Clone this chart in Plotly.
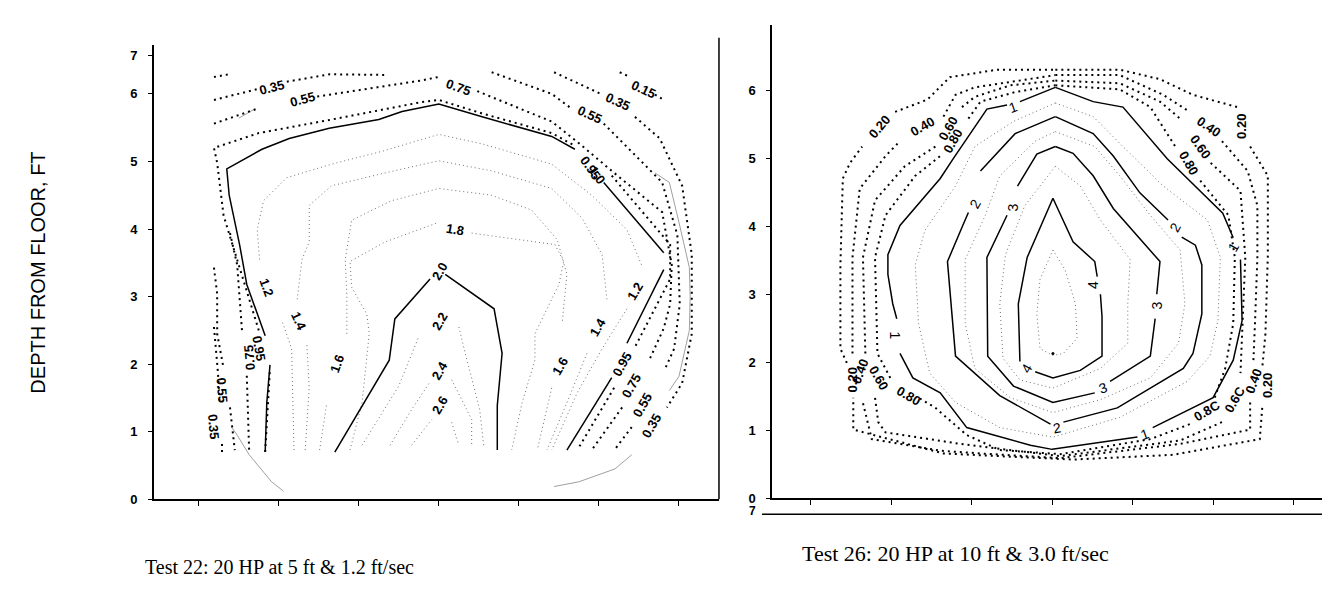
import plotly.graph_objects as go

# ---------------------------------------------------------------------------
# digitised contour lines (x = position across tank, y = depth from floor, ft)
# None = break in a line (gap for a label)
# ---------------------------------------------------------------------------
G = None

# Test 22 (left panel)
t22_solid = [
    (1.83, 0.70), (1.85, 1.43), (1.89, 1.99), G,
    (1.83, 2.42), (1.60, 3.18), (1.51, 3.77), (1.38, 4.50), (1.35, 4.89), (1.79, 5.18),
    (2.13, 5.34), (2.63, 5.49), (3.25, 5.62), (3.54, 5.74), (4.00, 5.85), (4.54, 5.66),
    (5.41, 5.37), (5.70, 5.18), G,
    (6.06, 4.69), (6.81, 3.65), G,
    (6.81, 3.40), (6.35, 2.31), G,
    (6.16, 1.80), (5.60, 0.73), G,
    (2.70, 0.70), (3.38, 2.06), (3.45, 2.67), (3.89, 3.26), G,
    (4.08, 3.33), (4.69, 2.82), (4.79, 2.16), (4.73, 1.39), (4.73, 0.73),
]

t22_heavy = [
    # 0.15
    (1.19, 6.25), (1.38, 6.29), G,
    (6.26, 6.32), (6.39, 6.25), G,
    (6.70, 5.99), (6.81, 5.91), G,
    # 0.35 top left
    (1.19, 5.91), (1.73, 6.07), G,
    (2.10, 6.18), (2.64, 6.29), (3.33, 6.28), G,
    # 0.55 / 0.75 line
    (1.19, 5.56), (1.73, 5.78), G,
    (2.48, 5.96), (3.79, 6.20), (4.00, 6.25), G,
    (4.48, 6.04), (5.41, 5.59), (5.75, 5.27), (6.16, 4.86), (6.79, 4.25), (6.91, 3.47),
    (6.89, 2.89), (6.81, 2.53), (6.64, 2.09), G,
    (6.29, 1.36), (5.91, 0.73), G,
    # 0.55 right
    (4.66, 6.32), (5.41, 6.00), (5.66, 5.78), G,
    (6.06, 5.56), (6.79, 4.69), (6.98, 3.91), (7.01, 2.89), (6.94, 2.23), (6.83, 1.94), G,
    (6.41, 1.07), (6.20, 0.74), G,
    # 0.35 right
    (5.44, 6.32), (6.04, 5.99), G,
    (6.45, 5.66), (6.76, 5.34), (7.04, 4.64), (7.16, 3.62), (7.16, 2.45), (7.04, 1.72),
    (6.85, 1.36), G,
    (6.69, 0.74), G,
    # 0.95
    (1.83, 0.70), (1.86, 1.43), (1.89, 1.94), G,
    (1.75, 2.50), (1.50, 3.45), (1.31, 4.20), (1.23, 4.98), (1.19, 5.20), (1.75, 5.42),
    (2.66, 5.62), (3.79, 5.88), (4.00, 5.91), (4.54, 5.71), (5.41, 5.42), (5.70, 5.23), G,
    (6.16, 4.79), (6.89, 3.77), (6.89, 3.26), (6.60, 2.60), (6.44, 2.23), G,
    (6.19, 1.65), (5.75, 0.77), G,
    # 0.75 / 0.55 / 0.35 left
    (1.39, 3.94), (1.48, 3.47), (1.54, 2.50), G,
    (1.60, 1.83), (1.63, 0.70), G,
    (1.19, 3.43), (1.23, 3.04), (1.23, 2.45), (1.31, 1.94), G,
    (1.39, 1.36), (1.45, 0.73), G,
    (1.19, 2.55), (1.24, 1.87), (1.26, 1.43), G,
    (1.29, 0.82), (1.29, 0.70),
]

t22_light = [
    # 1.2
    (2.19, 0.73), (2.16, 2.23), (2.04, 2.64), G,
    (1.76, 3.55), (1.73, 3.99), (1.81, 4.42), (2.10, 4.76), (2.66, 4.96), (3.29, 5.15),
    (4.00, 5.40), (4.54, 5.26), (5.41, 4.96), (5.91, 4.50), (6.35, 3.99), (6.54, 3.45), G,
    (6.35, 2.82), (6.04, 2.23), (5.73, 1.58), (5.41, 0.73), G,
    # 1.4
    (2.33, 0.73), (2.38, 1.65), (2.35, 2.31), G,
    (2.23, 2.96), (2.29, 3.55), (2.38, 3.81), (2.38, 4.35), (2.66, 4.64), (3.29, 4.82),
    (4.00, 5.01), (4.66, 4.86), (5.41, 4.60), (5.79, 4.16), (6.04, 3.62), (6.10, 2.96), G,
    (5.85, 2.16), (5.60, 1.43), (5.35, 0.73), G,
    # 1.6
    (2.51, 0.73), (2.60, 1.43), G,
    (2.85, 2.45), (2.85, 3.04), (2.83, 3.55), (2.91, 4.13), (3.41, 4.42), (4.00, 4.60),
    (4.66, 4.50), (5.16, 4.28), (5.48, 3.84), (5.60, 3.33), (5.54, 2.60), G,
    (5.41, 1.65), (5.23, 0.73), G,
    # 1.8
    (2.89, 0.73), (3.04, 1.43), (3.13, 2.45), (3.10, 2.74), (2.91, 3.14), (2.89, 3.52),
    (3.33, 3.81), (4.00, 4.10), G,
    (4.41, 3.94), (5.45, 3.77), (5.56, 3.52), (5.50, 3.18), (5.20, 2.45), (5.20, 2.06),
    (5.04, 1.43), (4.91, 0.73), G,
    # 2.2
    (3.04, 0.80), (3.50, 1.68), (3.75, 2.41), G,
    (4.25, 2.55), (4.33, 2.16), (4.51, 1.33), (4.56, 0.80), G,
    # 2.4
    (3.39, 0.80), (3.66, 1.33), (3.88, 1.72), G,
    (4.16, 1.77), (4.41, 1.18), (4.41, 0.80), G,
    # 2.6
    (3.66, 0.80), (3.91, 1.18), G,
    (4.16, 1.14), (4.25, 0.80),
]

t22_pencil = [
    (1.50, 5.64), (1.69, 5.77), G,
    (1.41, 1.07), (1.48, 0.95), (1.63, 0.66), (1.91, 0.26), (2.06, 0.12), G,
    (6.41, 0.66), (6.20, 0.45), (5.75, 0.26), (5.44, 0.19), G,
    (6.70, 4.83), (6.88, 4.69), (7.00, 4.10), (7.13, 3.43), (7.14, 2.99), (7.13, 2.50),
    (7.00, 1.82), (6.88, 1.61),
]

t22_labels = [
    ("0.35", 1.91, 6.10, -15), ("0.55", 2.29, 5.91, -15), ("0.75", 4.25, 6.10, 20),
    ("0.15", 6.56, 6.07, 25), ("0.35", 6.23, 5.88, 25), ("0.55", 5.88, 5.69, 25),
    ("0.95", 5.89, 4.91, 55), ("1.0", 5.97, 4.80, 55), ("1.8", 4.20, 3.99, 10),
    ("2.0", 4.01, 3.37, -60), ("2.2", 4.01, 2.63, -60), ("2.4", 4.01, 1.91, -60),
    ("2.6", 4.01, 1.39, -60), ("1.2", 1.85, 3.14, 70), ("1.4", 2.25, 2.63, 65),
    ("1.6", 2.73, 2.01, -70), ("0.95", 1.75, 2.23, 80), ("0.75", 1.63, 2.09, -95),
    ("0.55", 1.29, 1.61, 85), ("0.35", 1.19, 1.07, 85), ("1.6", 5.51, 1.97, -60),
    ("1.4", 5.98, 2.55, -60), ("1.2", 6.45, 3.08, -60), ("0.95", 6.29, 1.99, -60),
    ("0.75", 6.41, 1.68, -60), ("0.55", 6.54, 1.39, -60), ("0.35", 6.66, 1.09, -60),
]

# Test 26 (right panel)
t26_solid = [
    # 1
    (4.04, 6.04), (4.51, 5.83), (4.88, 5.75), (5.43, 4.99), (6.12, 4.19), (6.25, 3.83), G,
    (6.34, 3.51), (6.36, 2.61), (6.25, 2.03), (6.00, 1.48), (5.25, 1.04), G,
    (5.06, 0.90), (4.00, 0.72), (3.73, 0.78), (2.94, 1.04), (2.61, 1.55), (2.27, 1.77),
    (2.11, 2.13), G,
    (2.07, 2.64), (2.02, 2.86), (1.96, 3.29), (1.96, 3.58), (2.11, 4.01), (2.61, 4.70),
    (2.77, 4.99), (3.19, 5.72), (3.44, 5.78), G,
    (3.60, 5.83), (4.04, 6.04), G,
    # 2
    (4.04, 5.61), (4.51, 5.36), (4.76, 5.03), (5.09, 4.49), (5.44, 4.09), G,
    (5.61, 3.84), (5.78, 3.72), (5.86, 3.43), (5.86, 2.71), (5.75, 2.13), (5.63, 1.91),
    (4.81, 1.33), (4.14, 1.12), G,
    (3.98, 1.09), (3.35, 1.51), (2.80, 2.09), (2.70, 3.48), (2.89, 4.01), (2.96, 4.20), G,
    (3.11, 4.81), (3.54, 5.36), (4.04, 5.61), G,
    # 3
    (4.04, 5.17), (4.26, 5.07), (4.51, 4.74), (4.76, 4.26), (5.34, 3.48), (5.30, 3.00), G,
    (5.28, 2.64), (5.22, 2.09), (4.72, 1.72), G,
    (4.53, 1.55), (4.01, 1.41), (3.52, 1.65), (3.20, 2.09), (3.19, 3.54), (3.44, 4.16), G,
    (3.57, 4.59), (3.81, 5.06), (4.04, 5.17), G,
    # 4
    (4.01, 4.41), (4.26, 3.77), (4.53, 3.48), (4.56, 3.26), G,
    (4.60, 3.00), (4.62, 2.67), (4.62, 2.09), (4.35, 1.88), (4.01, 1.77), (3.79, 1.86), G,
    (3.60, 2.01), (3.58, 2.86), (3.69, 3.54), (4.01, 4.41),
]

t26_heavy = [
    # 0.20
    (4.04, 6.30), (4.84, 6.30), (5.34, 6.16), (5.75, 5.93), (6.30, 5.75), G,
    (6.46, 5.17), (6.68, 4.74), (6.68, 3.58), (6.65, 2.42), (6.61, 1.91), G,
    (6.61, 1.33), (6.58, 0.87), (5.50, 0.64), (4.26, 0.57), (3.35, 0.62), (2.65, 0.66),
    (1.53, 1.01), (1.53, 1.48), G,
    (1.45, 1.99), (1.37, 2.20), (1.37, 3.43), (1.40, 4.70), (1.49, 4.93), (1.64, 5.17), G,
    (2.05, 5.68), (2.45, 5.86), (2.73, 6.19), (3.32, 6.30), (4.04, 6.30), G,
    # 0.40
    (4.04, 6.22), (4.84, 6.22), (5.38, 5.93), (5.71, 5.68), G,
    (6.11, 5.25), (6.43, 4.81), (6.55, 4.30), (6.55, 3.54), (6.52, 2.57), (6.50, 2.01), G,
    (6.46, 1.41), (6.46, 1.01), (5.59, 0.80), (4.63, 0.66), (4.10, 0.59), (3.11, 0.66),
    (2.61, 0.70), (1.76, 0.87), (1.64, 1.45), G,
    (1.52, 2.13), (1.52, 3.54), (1.61, 4.55), (1.93, 5.03), (2.11, 5.25), G,
    (2.65, 5.61), (2.80, 5.93), (3.04, 6.04), (3.85, 6.19), (4.04, 6.22), G,
    # 0.60
    (4.04, 6.14), (4.84, 6.10), (5.34, 5.83), (5.59, 5.58), G,
    (5.97, 4.93), (6.34, 4.52), (6.40, 3.54), (6.37, 2.57), (6.34, 1.84), G,
    (6.11, 1.12), (5.59, 0.85), (4.10, 0.62), (2.86, 0.80), (1.93, 0.97), (1.84, 1.12),
    (1.80, 1.48), G,
    (1.68, 2.13), (1.65, 3.54), (1.80, 4.38), (2.17, 4.88), (2.55, 5.17), G,
    (2.88, 5.75), (3.04, 5.90), (3.48, 6.07), (4.04, 6.14), G,
    # 0.80
    (4.04, 6.07), (4.84, 6.01), (5.22, 5.75), (5.53, 5.17), G,
    (5.84, 4.67), (6.19, 4.16), (6.27, 3.54), (6.25, 2.57), (6.15, 1.91), (6.02, 1.48), G,
    (5.71, 1.09), (5.22, 0.87), (4.10, 0.65), (3.35, 0.71), (2.94, 0.93), (2.55, 1.33),
    (2.34, 1.48), G,
    (1.99, 1.77), (1.83, 2.13), (1.80, 3.54), (1.93, 4.16), (2.30, 4.74), (2.61, 5.03), G,
    (2.96, 5.58), (3.11, 5.83), (3.54, 5.97), (4.04, 6.07),
]

t26_light = [
    (4.04, 5.81), (4.51, 5.61), (4.88, 5.17), (5.38, 4.59), (5.93, 4.09), (6.09, 3.54),
    (6.06, 2.61), (5.96, 2.09), (5.68, 1.72), (4.84, 1.19), (4.01, 0.90), (3.35, 1.04),
    (2.80, 1.41), (2.48, 1.84), (2.34, 2.57), (2.30, 3.43), (2.42, 3.94), (2.80, 4.59),
    (3.04, 5.17), (3.52, 5.54), (4.04, 5.81), G,
    (4.04, 5.39), (4.53, 5.17), (4.84, 4.74), (5.22, 4.16), (5.59, 3.65), (5.65, 2.86),
    (5.57, 2.28), (5.22, 1.77), (4.60, 1.45), (4.01, 1.26), (3.48, 1.48), (3.04, 1.91),
    (2.92, 2.57), (2.92, 3.51), (3.17, 4.16), (3.35, 4.74), (3.79, 5.25), (4.04, 5.39), G,
    (4.04, 4.88), (4.35, 4.59), (4.60, 4.09), (4.97, 3.51), (4.94, 2.86), (4.94, 2.28),
    (4.60, 1.91), (4.01, 1.62), (3.60, 1.74), (3.39, 2.06), (3.35, 2.86), (3.42, 3.58),
    (3.66, 4.30), (4.04, 4.88), G,
    (4.01, 3.65), (4.16, 3.36), (4.29, 2.86), (4.31, 2.35), (4.14, 2.13), (4.01, 2.10),
    (3.85, 2.20), (3.81, 2.71), (3.85, 3.22), (4.01, 3.65),
]

t26_peak = [(4.01, 2.13)]

t26_labels = [
    ("1", 3.52, 5.75, -20), ("1", 6.25, 3.70, -60), ("1", 5.16, 0.94, -20),
    ("1", 2.05, 2.39, 90), ("2", 3.04, 4.33, -60), ("2", 5.53, 3.99, -60),
    ("2", 4.06, 1.04, -10), ("3", 3.52, 4.28, -90), ("3", 5.30, 2.83, -90),
    ("3", 4.63, 1.62, -20), ("4", 4.50, 3.14, -90), ("4", 3.69, 1.91, -60),
    ("0.20", 1.86, 5.46, -50), ("0.40", 2.39, 5.46, -30), ("0.60", 2.71, 5.43, -60),
    ("0.80", 2.76, 5.25, -60), ("0.40", 5.94, 5.46, 35), ("0.60", 5.84, 5.17, 55),
    ("0.80", 5.69, 4.93, 60), ("0.20", 6.36, 5.46, -90), ("0.8C", 5.93, 1.29, -30),
    ("0.6C", 6.27, 1.45, -60), ("0.40", 6.50, 1.72, -70), ("0.20", 6.67, 1.65, -90),
    ("0.20", 1.52, 1.74, -90), ("0.40", 1.61, 1.87, -70), ("0.60", 1.84, 1.77, 60),
    ("0.80", 2.21, 1.51, 30),
]

y_ticks = [0, 1, 2, 3, 4, 5, 6]
left_top_tick = 6.57
captions = ["Test 22: 20 HP at 5 ft &amp; 1.2 ft/sec", "Test 26: 20 HP at 10 ft &amp; 3.0 ft/sec"]
y_title = "DEPTH FROM FLOOR, FT"


def split(pts):
    xs, ys = [], []
    for p in pts:
        if p is None:
            xs.append(None)
            ys.append(None)
        else:
            xs.append(p[0])
            ys.append(p[1])
    return xs, ys


HEAVY = dict(color="black", width=2, dash="2px,4px")
LIGHT = dict(color="#707070", width=1, dash="1px,3px")
SOLID = dict(color="black", width=1.5)
PENCIL = dict(color="#a0a0a0", width=1)

fig = go.Figure()


def add_line(pts, style, xa, ya):
    xs, ys = split(pts)
    fig.add_trace(go.Scatter(x=xs, y=ys, mode="lines", line=style, xaxis=xa, yaxis=ya,
                             showlegend=False, hoverinfo="skip", connectgaps=False))


add_line(t22_pencil, PENCIL, "x", "y")
add_line(t22_light, LIGHT, "x", "y")
add_line(t22_heavy, HEAVY, "x", "y")
add_line(t22_solid, SOLID, "x", "y")
add_line(t26_light, LIGHT, "x2", "y2")
add_line(t26_heavy, HEAVY, "x2", "y2")
add_line(t26_solid, SOLID, "x2", "y2")
px, py = split(t26_peak)
fig.add_trace(go.Scatter(x=px, y=py, mode="markers", marker=dict(color="black", size=3),
                         xaxis="x2", yaxis="y2", showlegend=False, hoverinfo="skip"))


def label_font(txt):
    if "." in txt:
        return dict(family="Arial", size=13, color="black", weight="bold")
    return dict(family="Arial", size=14, color="black")


for txt, x, y, a in t22_labels:
    fig.add_annotation(x=x, y=y, xref="x", yref="y", text=txt, textangle=a,
                       showarrow=False, font=label_font(txt))
for txt, x, y, a in t26_labels:
    fig.add_annotation(x=x, y=y, xref="x2", yref="y2", text=txt, textangle=a,
                       showarrow=False, font=label_font(txt))

# captions and shared y title
fig.add_annotation(x=0.2057, y=0.055, xref="paper", yref="paper", text=captions[0],
                   xanchor="center", yanchor="middle", showarrow=False,
                   font=dict(family="Liberation Serif", size=20, color="black"))
fig.add_annotation(x=0.599, y=0.0783, xref="paper", yref="paper", text=captions[1],
                   xanchor="left", yanchor="middle", showarrow=False,
                   font=dict(family="Liberation Serif", size=22, color="black"))
fig.add_annotation(x=0.0227, y=0.553, xref="paper", yref="paper", text=y_title, textangle=-90,
                   xanchor="center", yanchor="middle", showarrow=False,
                   font=dict(family="Arial", size=20, color="black"))
# stray "7" of the scanned page under the right panel
fig.add_annotation(x=0.5628, y=0.15, xref="paper", yref="paper", text="7",
                   xanchor="center", yanchor="middle", showarrow=False,
                   font=dict(family="Arial", size=12, color="black", weight="bold"))

fig.add_shape(type="line", xref="x domain", yref="y domain", x0=1, x1=1, y0=0, y1=1.015,
              line=dict(color="black", width=1.5))
fig.add_shape(type="line", xref="x2 domain", yref="paper", x0=-0.018, x1=1, y0=0.145, y1=0.145,
              line=dict(color="black", width=1.5))

tick_font = dict(family="Arial", size=13, color="black", weight="bold")
xcommon = dict(showgrid=False, zeroline=False, showline=True, linecolor="black", linewidth=1.5,
               ticks="outside", ticklen=5, tickcolor="black", showticklabels=False,
               tickvals=[1, 2, 3, 4, 5, 6, 7])
ycommon = dict(showgrid=False, zeroline=False, showline=True, linecolor="black", linewidth=1.5,
               ticks="outside", ticklen=4, tickcolor="black", tickfont=tick_font,
               ticklabelstandoff=8)

# the page keeps an 8px left margin, so the figure is 8px narrower than the window
fig.update_layout(
    width=1322, height=600,
    margin=dict(l=0, r=0, t=0, b=0),
    paper_bgcolor="white", plot_bgcolor="white",
    xaxis=dict(domain=[0.1104, 0.5378], range=[0.44, 7.5], anchor="y", **xcommon),
    yaxis=dict(domain=[0.17, 0.9383], range=[0, 6.73], anchor="x",
               tickvals=y_ticks + [left_top_tick],
               ticktext=[str(v) for v in y_ticks] + ["7"], **ycommon),
    xaxis2=dict(domain=[0.5779, 0.995], range=[0.52, 7.37], anchor="y2", **xcommon),
    yaxis2=dict(domain=[0.1717, 0.9717], range=[0, 6.96], anchor="x2",
                tickvals=y_ticks, ticktext=[str(v) for v in y_ticks], **ycommon),
)

fig.write_html("out.html")
